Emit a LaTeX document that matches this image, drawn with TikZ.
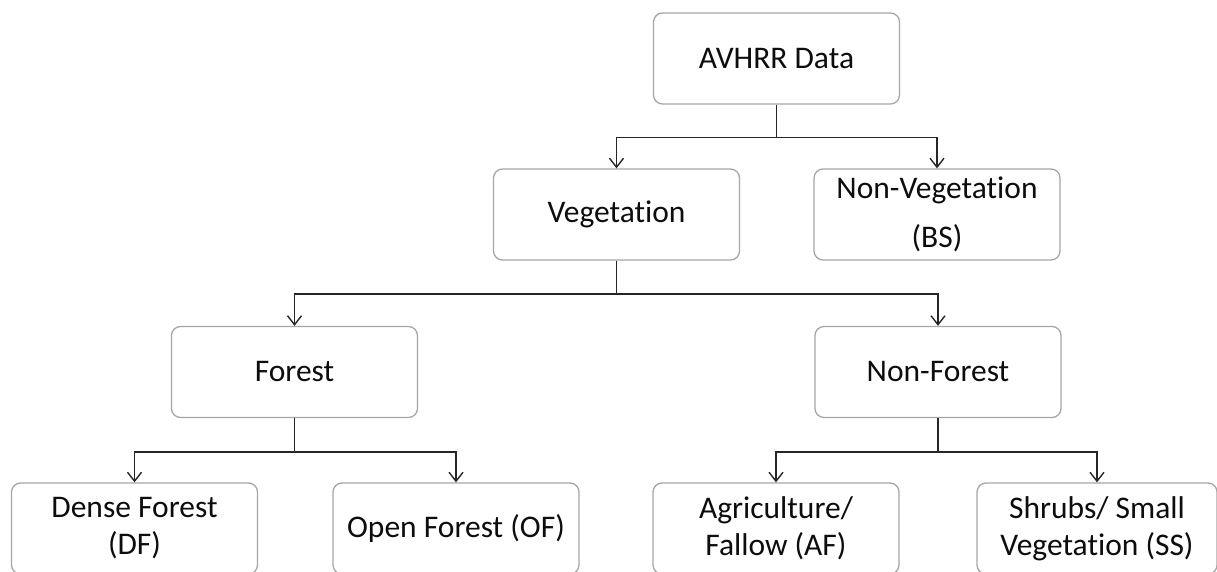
\documentclass[tikz,border=0pt]{standalone}
\usepackage{fontspec}
\setmainfont{Carlito}[RawFeature={-liga;-clig;-calt;-dlig;-rlig}]
\usetikzlibrary{arrows.meta}
\definecolor{boxgray}{HTML}{A6A6A6}
\definecolor{linegray}{HTML}{262626}
\definecolor{textgray}{HTML}{0D0D0D}
\tikzset{
  box/.style={draw=boxgray, line width=1.3pt, rounded corners=9pt, fill=white,
    minimum width=246pt, minimum height=91pt, inner sep=0pt, align=center,
    text=textgray, font=\fontsize{31.5}{37}\selectfont},
  conn/.style={draw=linegray, line width=1.7pt, -{Straight Barb[length=9pt,width=14pt,line width=1.4pt]}}
}
\begin{document}
\begin{tikzpicture}[x=1pt,y=-1pt]
\useasboundingbox (0,0) rectangle (1217,572);
\node[box] (avhrr) at (776.5,58.5) {AVHRR Data};
\node[box] (veg) at (616.5,214.5) {Vegetation};
\node[box, font=\fontsize{31.5}{49}\selectfont] (nonveg) at (937,214.5) {Non-Vegetation\\(BS)};
\node[box] (forest) at (294.5,372) {Forest};
\node[box] (nonforest) at (938,372) {Non-Forest};
\node[box] (dense) at (134.5,528.5) {Dense Forest\\(DF)};
\node[box] (open) at (456,528.5) {Open Forest (OF)};
\node[box] (agri) at (776,528.5) {Agriculture/\\Fallow (AF)};
\node[box, minimum width=240pt] (shrubs) at (1097,528.5) {Shrubs/ Small\\Vegetation (SS)};
\draw[conn] (avhrr.south) -- ++(0,33) -| (veg.north);
\draw[conn] (avhrr.south) -- ++(0,33) -| (nonveg.north);
\draw[conn] (veg.south) -- ++(0,33) -| (forest.north);
\draw[conn] (veg.south) -- ++(0,33) -| (nonforest.north);
\draw[conn] (forest.south) -- ++(0,34) -| (dense.north);
\draw[conn] (forest.south) -- ++(0,34) -| (open.north);
\draw[conn] (nonforest.south) -- ++(0,34) -| (agri.north);
\draw[conn] (nonforest.south) -- ++(0,34) -| (shrubs.north);
\end{tikzpicture}
\end{document}
